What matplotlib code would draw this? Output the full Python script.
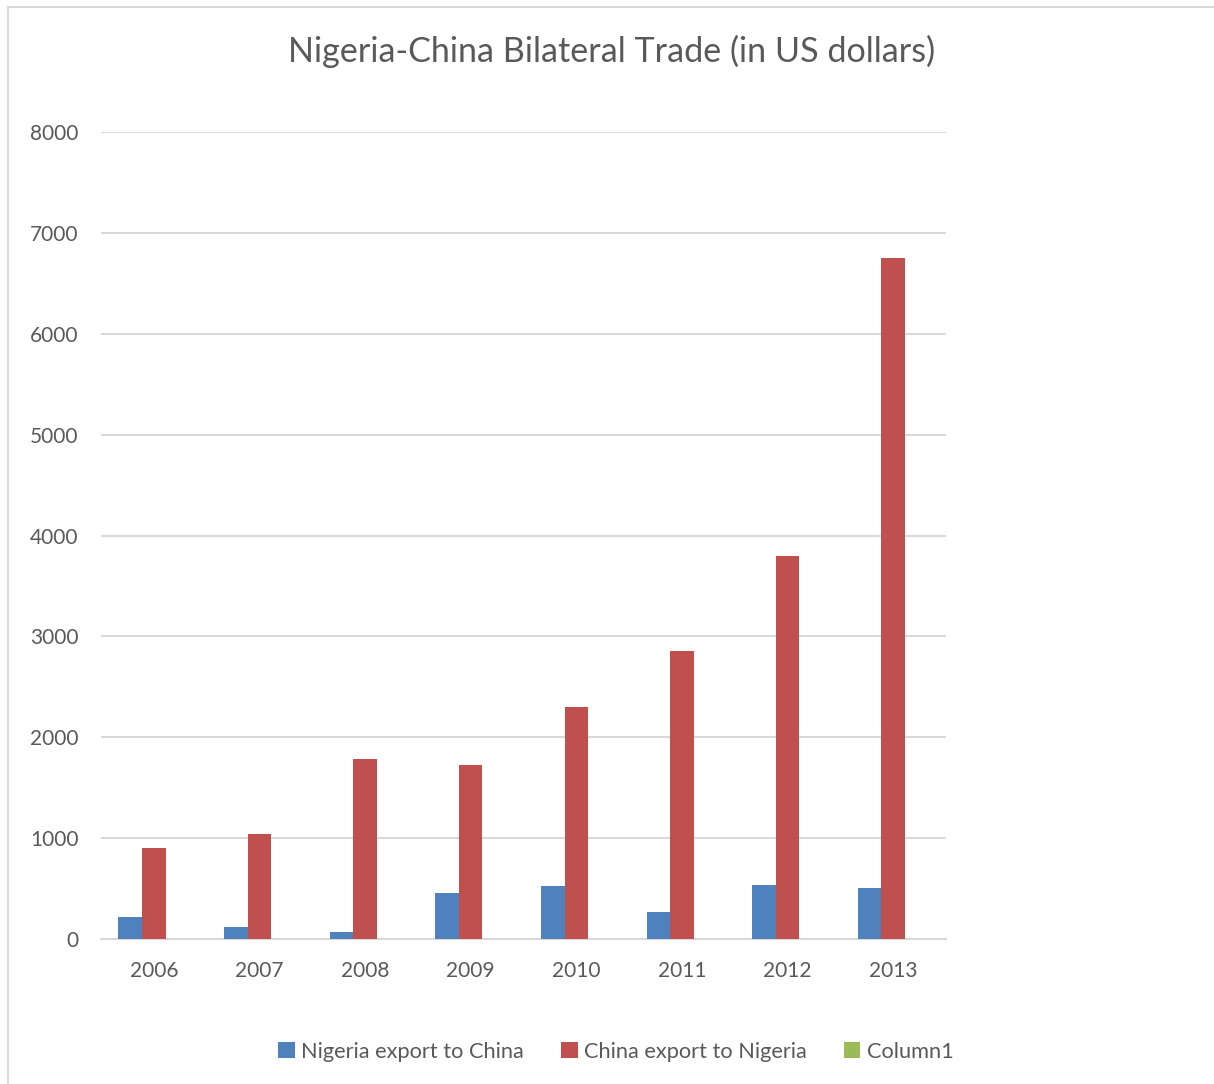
import matplotlib.pyplot as plt
import numpy as np
from matplotlib.lines import Line2D
from matplotlib.patches import Patch

# Datos
years = ['2006', '2007', '2008', '2009', '2010', '2011', '2012', '2013']
nigeria_to_china = [222, 116, 66, 456, 525, 267, 535, 505]
china_to_nigeria = [906, 1038, 1789, 1720, 2304, 2853, 3796, 6746]
column1 = [0, 0, 0, 0, 0, 0, 0, 0]

series_names = ['Nigeria export to China', 'China export to Nigeria', 'Column1']
series_colors = ['#4F81BD', '#C0504D', '#9BBB59']
text_color = '#595959'
grid_color = '#D9D9D9'

plt.rcParams['font.family'] = ['Lato', 'DejaVu Sans']

W, H = 1214, 1084
fig = plt.figure(figsize=(W / 100, H / 100), dpi=100)
ax = fig.add_axes([101 / W, 1 - 939 / H, (946 - 101) / W, (939 - 132) / H])

x = np.arange(len(years))
bar_w = 0.223
for i, (vals, color) in enumerate(zip([nigeria_to_china, china_to_nigeria, column1], series_colors)):
    ax.bar(x + (i - 1) * bar_w, vals, width=bar_w, color=color, zorder=3)

ax.set_xlim(-0.5, len(years) - 0.5)
ax.set_ylim(0, 8000)
ax.set_yticks(range(0, 8001, 1000))
ax.set_xticks(x)
ax.set_xticklabels(years)
ax.tick_params(axis='both', length=0, labelsize=15, colors=text_color)
ax.tick_params(axis='y', pad=16)
ax.tick_params(axis='x', pad=16)
ax.grid(axis='y', color=grid_color, linewidth=1.5, zorder=0)
for s in ['top', 'right', 'left']:
    ax.spines[s].set_visible(False)
ax.spines['bottom'].set_color(grid_color)
ax.spines['bottom'].set_linewidth(1.5)

fig.text(612 / W, 1 - 51 / H, 'Nigeria-China Bilateral Trade (in US dollars)',
         ha='center', va='center', fontsize=24.6, color=text_color)

handles = [Patch(facecolor=c, label=n) for c, n in zip(series_colors, series_names)]
fig.legend(handles=handles, loc='center', bbox_to_anchor=(616 / W, 1 - 1052 / H),
           ncol=3, frameon=False, fontsize=15.7, labelcolor=text_color,
           handlelength=0.75, handleheight=0.75, handletextpad=0.3, columnspacing=1.7)

# borde del área del gráfico
fig.add_artist(Line2D([8 / W, 8 / W], [0, 1 - 7 / H], color=grid_color, linewidth=1.5))
fig.add_artist(Line2D([8 / W, 1], [1 - 7 / H, 1 - 7 / H], color=grid_color, linewidth=1.5))

fig.savefig('out.png', dpi=100)
